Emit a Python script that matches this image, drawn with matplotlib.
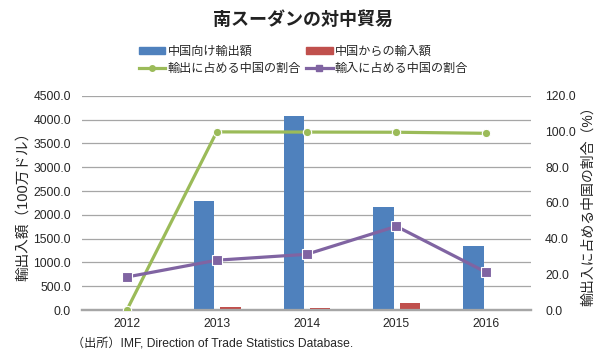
import matplotlib.pyplot as plt
from matplotlib.lines import Line2D
from matplotlib.patches import Patch

plt.rcParams['font.family'] = ['Liberation Sans', 'Noto Sans CJK JP']

years = ["2012", "2013", "2014", "2015", "2016"]
exports_to_china = [0, 2300, 4085, 2170, 1350]
imports_from_china = [0, 55, 50, 155, 20]
export_share = [0, 99.8, 99.7, 99.6, 99.0]
import_share = [18.5, 27.9, 31.2, 46.9, 21.1]

blue = "#4F81BD"
red = "#C0504D"
green = "#9BBB59"
purple = "#8064A2"
txt = "#262626"


def main():
    fig = plt.figure(figsize=(6.07, 3.63), dpi=100)
    ax = fig.add_axes([0.135, 0.146, 0.74, 0.59])
    ax2 = ax.twinx()

    x = list(range(len(years)))
    w = 0.23
    ax.bar([i - 0.14 for i in x], exports_to_china, w, color=blue, zorder=3)
    ax.bar([i + 0.15 for i in x], imports_from_china, w, color=red, zorder=3)

    ax2.plot(x, export_share, color=green, lw=2.3, marker="o", ms=6,
             mec="white", mew=0.8, zorder=4)
    ax2.plot(x, import_share, color=purple, lw=2.3, marker="s", ms=7,
             mec="white", mew=0.8, zorder=4)

    ax.set_xlim(-0.5, 4.5)
    ax.set_ylim(0, 4500)
    ax2.set_ylim(0, 120)
    ax.set_yticks(range(0, 4501, 500))
    ax.set_yticklabels([f"{v:.1f}" for v in range(0, 4501, 500)])
    ax2.set_yticks(range(0, 121, 20))
    ax2.set_yticklabels([f"{v:.1f}" for v in range(0, 121, 20)])
    ax.set_xticks(x)
    ax.set_xticklabels(years)

    ax.grid(axis="y", color="#a6a6a6", lw=0.9, zorder=0)
    for a in (ax, ax2):
        for s in ("top", "left", "right"):
            a.spines[s].set_visible(False)
        a.spines["bottom"].set_color("#a6a6a6")
        a.spines["bottom"].set_linewidth(1.6)
        a.tick_params(length=0, labelsize=8.7, colors=txt)
    ax.tick_params(axis="y", pad=8)
    ax2.tick_params(axis="y", pad=10)
    ax.tick_params(axis="x", pad=6)

    ax.set_ylabel("輸出入額（100万ドル）", fontsize=10.5, color=txt, labelpad=2)
    ax2.set_ylabel("輸出入に占める中国の割合（%）", fontsize=10, color=txt,
                   rotation=90, labelpad=4)

    fig.text(0.5, 0.945, "南スーダンの対中貿易", ha="center", va="center",
             fontsize=13, fontweight="bold", color="#222222")

    handles = [
        Patch(color=blue),
        Line2D([], [], color=green, lw=2.3, marker="o", ms=4),
        Patch(color=red),
        Line2D([], [], color=purple, lw=2.3, marker="s", ms=4),
    ]
    labels = ["中国向け輸出額", "輸出に占める中国の割合",
              "中国からの輸入額", "輸入に占める中国の割合"]
    fig.legend(handles, labels, ncol=2, loc="center", bbox_to_anchor=(0.5, 0.833),
               frameon=False, fontsize=8.7, handlelength=2.2, handleheight=0.5,
               columnspacing=0.4, handletextpad=0.2, labelspacing=0.45,
               labelcolor=txt)

    fig.text(0.118, 0.05, "（出所）IMF, Direction of Trade Statistics Database.",
             fontsize=8.7, color=txt, va="center")

    fig.savefig("out.png", dpi=100)


if __name__ == "__main__":
    main()
